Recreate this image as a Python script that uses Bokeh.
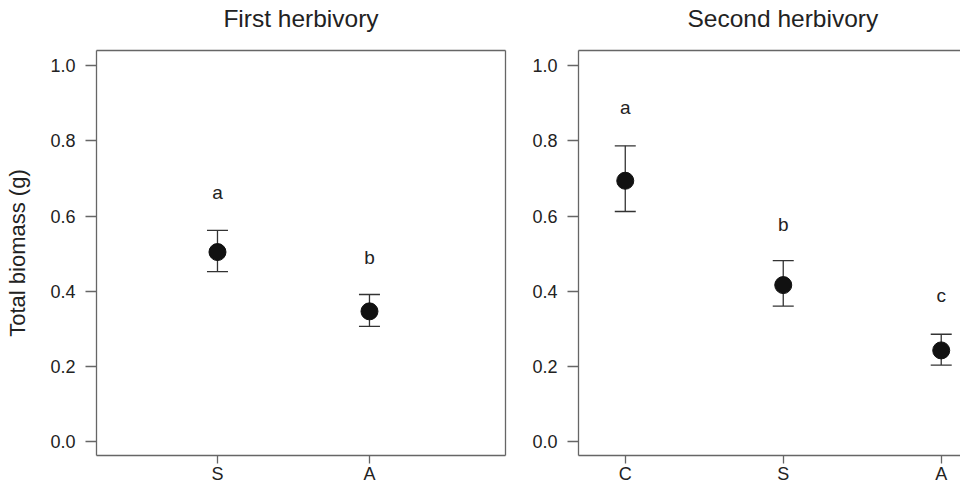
from bokeh.plotting import figure
from bokeh.models import FixedTicker, LinearAxis, Range1d, ColumnDataSource
from bokeh.layouts import row
from bokeh.embed import file_html
from bokeh.resources import INLINE
from bokeh.core.properties import value

# ---------------- data ----------------
y_ticks = [0.0, 0.2, 0.4, 0.6, 0.8, 1.0]
y_tick_labels = ["0.0", "0.2", "0.4", "0.6", "0.8", "1.0"]

first_title = "First herbivory"
first_groups = ["S", "A"]
first_mean = [0.504, 0.346]
first_upper = [0.562, 0.391]
first_lower = [0.452, 0.306]
first_letters = ["a", "b"]
first_letter_y = [0.663, 0.489]

second_title = "Second herbivory"
second_groups = ["C", "S", "A"]
second_mean = [0.694, 0.416, 0.242]
second_upper = [0.787, 0.481, 0.285]
second_lower = [0.612, 0.360, 0.203]
second_letters = ["a", "b", "c"]
second_letter_y = [0.888, 0.578, 0.387]

y_label = "Total biomass (g)"

FONT = "Liberation Sans"
GRAY = "#666666"
DARK = "#222222"
Y_RANGE = (-0.038, 1.041)


def border_axis(p, side, spacer=False):
    ax = LinearAxis(ticker=FixedTicker(ticks=[]), major_tick_out=0, major_tick_in=0,
                    minor_tick_out=0, minor_tick_in=0, major_label_text_font_size="0px",
                    major_label_standoff=0, axis_line_color=GRAY, axis_line_width=1.3)
    if spacer:
        # blank label only reserves a little room between frame and title
        ax.axis_label = " "
        ax.axis_label_text_font_size = "10px"
        ax.axis_label_standoff = 0
    p.add_layout(ax, side)


def make_panel(title, groups, mean, upper, lower, letters, letter_y,
               xr, width, mbl, mbr, ylabel, title_align, title_offset):
    p = figure(width=width, height=486, x_range=Range1d(*xr), y_range=Range1d(*Y_RANGE),
               output_backend="svg", toolbar_location=None,
               min_border_left=mbl, min_border_right=mbr, min_border_top=50, min_border_bottom=28,
               x_axis_location=None, y_axis_location=None)
    p.grid.visible = False
    p.outline_line_color = None
    p.background_fill_color = "white"
    p.border_fill_color = "white"

    pos = list(range(1, len(groups) + 1))
    src = ColumnDataSource(dict(x=pos, mean=mean, upper=upper, lower=lower,
                                letters=letters, ly=letter_y))

    xax = LinearAxis(ticker=FixedTicker(ticks=pos),
                     major_label_overrides={k: g for k, g in zip(pos, groups)})
    yax = LinearAxis(ticker=FixedTicker(ticks=y_ticks),
                     major_label_overrides={k: s for k, s in zip(y_ticks, y_tick_labels)})
    for ax in (xax, yax):
        ax.axis_line_color = GRAY
        ax.axis_line_width = 1.3
        ax.major_tick_line_color = GRAY
        ax.major_tick_line_width = 1.3
        ax.major_tick_in = 0
        ax.minor_tick_out = 0
        ax.minor_tick_in = 0
        ax.major_label_text_font = FONT
        ax.major_label_text_font_size = "18px"
        ax.major_label_text_color = DARK
    xax.major_tick_out = 8
    xax.major_label_standoff = 0
    yax.major_tick_out = 11
    yax.major_label_standoff = 10
    if ylabel:
        yax.axis_label = ylabel
        yax.axis_label_text_font = FONT
        yax.axis_label_text_font_size = "22px"
        yax.axis_label_text_font_style = "normal"
        yax.axis_label_text_color = DARK
        yax.axis_label_standoff = 17
    p.add_layout(xax, "below")
    p.add_layout(yax, "left")
    border_axis(p, "above", spacer=True)
    if mbr > 0:
        border_axis(p, "right")

    p.title.text = title
    p.title.text_font = FONT
    p.title.text_font_size = "24.5px"
    p.title.text_font_style = "normal"
    p.title.text_color = DARK
    p.title.align = title_align
    p.title.offset = title_offset
    p.title.vertical_align = "top"
    p.title.standoff = 6

    p.segment(x0="x", y0="lower", x1="x", y1="upper", source=src, line_color="#333333", line_width=1.3)
    p.scatter(x="x", y="upper", source=src, marker="dash", size=21, line_color="#333333", line_width=1.3)
    p.scatter(x="x", y="lower", source=src, marker="dash", size=21, line_color="#333333", line_width=1.3)
    p.scatter(x="x", y="mean", source=src, marker="circle", size=17, fill_color="#111111",
              line_color="#111111")
    p.text(x="x", y="ly", text="letters", source=src, text_align="center", text_baseline="middle",
           text_font=value(FONT), text_font_size="19px", text_color=DARK)
    return p


# left panel: full frame visible; right panel: frame runs past the right edge (as in the original crop)
p1 = make_panel(first_title, first_groups, first_mean, first_upper, first_lower,
                first_letters, first_letter_y, (0.204, 2.895), 520, 96, 15, y_label, "center", 0)
p2 = make_panel(second_title, second_groups, second_mean, second_upper, second_lower,
                second_letters, second_letter_y, (0.704, 3.122), 440, 58, 0, None, "left", 109)

layout = row(p1, p2)
open("out.html", "w").write(file_html(layout, INLINE))
